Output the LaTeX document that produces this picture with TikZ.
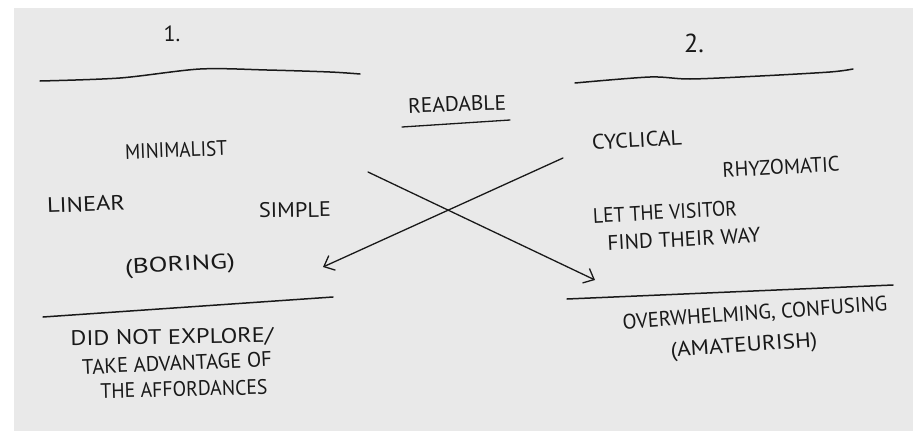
\documentclass[tikz,border=0pt]{standalone}
\usepackage{fontspec}
\usepackage{graphicx}
\setmainfont{PT Sans}
\usetikzlibrary{arrows.meta}
\definecolor{paper}{RGB}{233,233,233}
\definecolor{ink}{RGB}{25,25,25}
% hand-lettered label stretched to a given width, keeping its height
\newcommand\hw[2]{\resizebox{#1pt}{\height}{#2}}
\tikzset{
  note/.style={inner sep=0pt, anchor=center, text=ink, font=\fontsize{21}{24}\selectfont},
  pen/.style={draw=ink, line width=1.5pt, line cap=round, line join=round},
  link/.style={pen, line width=1.3pt, -{Straight Barb[length=9pt,width=16pt,line width=1.3pt]}}
}
\begin{document}
\begin{tikzpicture}[x=1pt,y=-1pt]
  \useasboundingbox (0,0) rectangle (913,431);
  \fill[paper] (14,8) rectangle (913,431);

  % column headings
  \node[note, font=\fontsize{22}{24}\selectfont] (one) at (172,34) {1.};
  \node[note, font=\fontsize{26}{28}\selectfont] (two) at (694,43) {2.};

  % separators under the headings
  \draw[pen] plot[smooth] coordinates {(40,81) (120,78) (200,69) (267,70) (330,72) (360,74)};
  \draw[pen] plot[smooth] coordinates {(575,83) (650,77) (690,79) (760,76) (830,72) (853,69)};

  % shared quality in the middle
  \node[note, rotate=2] (readable) at (457,104) {\hw{98}{READABLE}};
  \draw[pen, line width=1.3pt] (402,127) -- (510,120);

  % first approach
  \node[note, rotate=2] (minimal) at (176,150) {\hw{102}{MINIMALIST}};
  \node[note, rotate=2] (linear) at (86,204) {\hw{78}{LINEAR}};
  \node[note, rotate=1] (simple) at (295,210) {\hw{72}{SIMPLE}};
  \node[note, rotate=3] (boring) at (180,266) {\hw{110}{(BORING)}};

  % second approach
  \node[note, rotate=3] (cyclical) at (637,140) {\hw{90}{CYCLICAL}};
  \node[note, rotate=3] (rhyzo) at (781,167) {\hw{117}{RHYZOMATIC}};
  \node[note, rotate=3] (visitor) at (665,212) {\hw{144}{LET THE VISITOR}};
  \node[note, rotate=3] (findway) at (684,239) {\hw{153}{FIND THEIR WAY}};

  % crossing arrows
  \coordinate (fromleft) at (368,172);
  \coordinate (toright) at (595,280);
  \coordinate (fromright) at (563,158);
  \coordinate (toleft) at (323,267);
  \draw[link] (fromleft) -- (toright);
  \draw[link] (fromright) -- (toleft);

  % bottom separators
  \draw[pen] (43,317) -- (333,297);
  \draw[pen] (567,299) -- (893,285);

  % drawbacks
  \node[note, rotate=1] (explore) at (172,338) {\hw{203}{DID NOT EXPLORE/}};
  \node[note, rotate=2.5] (advantage) at (177,363) {\hw{190}{TAKE ADVANTAGE OF}};
  \node[note, rotate=1.5] (afford) at (184,389) {\hw{167}{THE AFFORDANCES}};

  \node[note, rotate=4] (overwhelm) at (755,314) {\hw{265}{OVERWHELMING, CONFUSING}};
  \node[note, rotate=4] (amateur) at (744,347) {\hw{147}{(AMATEURISH)}};
\end{tikzpicture}
\end{document}
